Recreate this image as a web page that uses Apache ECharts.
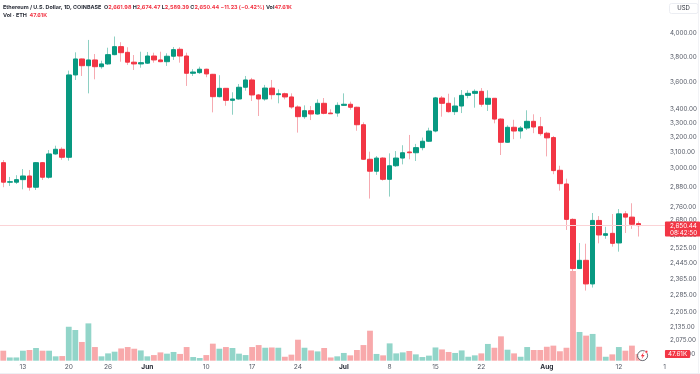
<!DOCTYPE html>
<html><head><meta charset="utf-8">
<style>html,body{margin:0;padding:0;background:#fff}#c{width:700px;height:374px}</style>
<script src="https://cdn.jsdelivr.net/npm/echarts@6/dist/echarts.min.js"></script>
</head><body><div id="c"></div>
<script>
const opens=[3032,2908,2908,2924,2947,2877,3032,2939,3089,3120,3067,3657,3784,3730,3776,3722,3744,3819,3885,3838,3758,3744,3750,3808,3776,3762,3806,3863,3808,3670,3675,3702,3662,3491,3554,3464,3474,3562,3618,3504,3474,3556,3506,3513,3489,3415,3345,3388,3364,3442,3371,3371,3427,3435,3413,3288,3054,2977,3062,2926,3012,3062,3102,3097,3131,3174,3244,3481,3442,3381,3422,3501,3516,3531,3435,3479,3328,3167,3270,3244,3265,3312,3274,3229,3199,2983,2897,2686,2418,2461,2340,2680,2596,2607,2554,2718,2699,2661.98];
const closes=[2908,2911,2924,2947,2877,3032,2939,3089,3120,3067,3657,3784,3730,3776,3722,3744,3819,3885,3835,3758,3744,3754,3808,3776,3762,3806,3860,3808,3670,3680,3702,3665,3491,3554,3464,3474,3562,3618,3504,3474,3556,3506,3513,3489,3415,3345,3388,3364,3442,3369,3366,3427,3435,3413,3288,3054,2977,3062,2926,3012,3062,3097,3097,3131,3174,3244,3482,3442,3381,3422,3501,3516,3531,3435,3479,3328,3167,3270,3244,3265,3312,3272,3226,3197,2981,2899,2686,2418,2461,2340,2680,2598,2605,2552,2718,2699,2658,2650.44];
const lows=[2877,2885,2897,2864,2856,2860,2922,2930,3084,3051,3045,3618,3649,3516,3623,3706,3736,3814,3762,3736,3696,3714,3744,3754,3758,3728,3776,3754,3572,3649,3665,3639,3376,3486,3424,3359,3468,3536,3459,3350,3461,3471,3442,3471,3402,3233,3330,3321,3359,3362,3364,3345,3424,3395,3246,3051,2808,2954,2918,2820,3004,3021,3054,3043,3113,3169,3235,3345,3374,3357,3371,3479,3410,3417,3386,3298,3082,3165,3188,3192,3251,3229,3212,3073,2958,2856,2626,2116,2416,2307,2322,2552,2577,2534,2507,2609,2632,2589.39];
const highs=[3049,2941,2952,2991,2985,3036,3036,3115,3144,3133,3691,3838,3787,3941,3824,3770,3876,3970,3922,3880,3816,3843,3841,3835,3843,3830,3882,3880,3835,3702,3722,3706,3665,3655,3556,3524,3587,3649,3634,3511,3580,3618,3546,3521,3516,3427,3427,3422,3471,3481,3398,3449,3516,3454,3417,3305,3104,3075,3067,3093,3108,3147,3217,3156,3199,3267,3489,3496,3513,3486,3541,3539,3546,3556,3539,3481,3333,3284,3323,3279,3391,3362,3343,3239,3210,3012,2930,2692,2554,2550,2723,2705,2644,2717,2746,2734,2780,2674.47];
const volumes=[71,23,23,71,76,90,71,71,31,33,241,218,133,265,97,31,52,64,87,97,85,73,31,40,59,50,62,48,97,26,19,40,121,85,97,90,50,40,97,111,92,94,92,28,43,149,92,73,66,90,23,31,55,38,76,111,213,48,38,123,52,59,69,45,26,36,94,80,62,55,73,28,38,52,119,92,173,78,52,28,97,76,76,99,107,67,92,637,204,178,190,99,28,45,97,71,107,47.61];
const priceTicks=[4000,3800,3600,3400,3300,3200,3100,3000,2880,2760,2680,2600,2525,2445,2365,2285,2205,2135,2075,2015];
const dateTickIndex=[3,10,16,22,31,38,45,52,59,66,73,83,94,101];
const dateTickText=['13','20','26','Jun','10','17','24','Jul','8','15','22','Aug','12','1'];
const boldTicks=['Jun','Jul','Aug'];
const categories=[];
for(let i=0;i<102;i++){const d=new Date(Date.UTC(2024,4,10+i));categories.push(d.toISOString().slice(0,10));}
const UP='#089981',DOWN='#f23645',UPW='#8ed0c3',DOWNW='#f6aab1',UPV='#92d5c9',DOWNV='#f8a9ab';
const lastClose=closes[closes.length-1],lastVol=volumes[volumes.length-1];
const wicks=opens.map((o,i)=>[o,closes[i],lows[i],highs[i]]);
const bodies=opens.map((o,i)=>[o,closes[i],Math.min(o,closes[i]),Math.max(o,closes[i])]);
const FONT='Inter, "Noto Sans", sans-serif';
const TS=5.45;
const chart=echarts.init(document.getElementById('c'),null,{renderer:'canvas'});
chart.setOption({
 animation:false,backgroundColor:'#fff',
 title:{left:3,top:3,padding:0,itemGap:0,text:
  '{k|Ethereum / U.S. Dollar, 1D, COINBASE}  {k|O}{r|2,661.98} {k|H}{r|2,674.47} {k|L}{r|2,589.39} {k|C}{r|2,650.44} {r|−11.23 (−0.42%)} {k|Vol}{r|47.61K}\n{k|Vol · ETH}  {r|47.61K}',
  textStyle:{fontFamily:FONT,fontSize:TS,lineHeight:8.5,color:'#2a2e39',rich:{
   k:{fontFamily:FONT,fontSize:TS,lineHeight:8.5,color:'#2a2e39'},
   r:{fontFamily:FONT,fontSize:TS,lineHeight:8.5,color:'#f23645'}}}},
 grid:{left:0,top:0,width:670,height:360.7,containLabel:false},
 xAxis:{type:'category',data:categories,boundaryGap:true,
  axisLine:{show:false},axisTick:{show:false},splitLine:{show:false},
  axisLabel:{margin:3,fontFamily:FONT,fontSize:6.6,color:'#555a66',hideOverlap:false,
   interval:(i)=>dateTickIndex.includes(i),
   formatter:(v,i)=>{const t=dateTickText[dateTickIndex.indexOf(i)]||'';return boldTicks.includes(t)?'{b|'+t+'}':t;},
   rich:{b:{fontFamily:FONT,fontSize:6.6,fontWeight:'bold',color:'#2a2e39'}}}},
 yAxis:[
  {type:'log',position:'right',min:1986,max:4292,axisLine:{show:false},splitLine:{show:false},
   axisTick:{show:false},
   axisLabel:{customValues:priceTicks,margin:2,fontFamily:FONT,fontSize:6.3,color:'#555a66',align:'left',showMinLabel:true,showMaxLabel:true,
    formatter:(v)=>Number(Math.round(v)).toLocaleString('en-US',{minimumFractionDigits:2,maximumFractionDigits:2})}},
  {type:'value',show:false,min:0,max:2561,splitLine:{show:false}}
 ],
 series:[
  {type:'bar',name:'Vol',xAxisIndex:0,yAxisIndex:1,barWidth:5.8,z:1,silent:true,
   data:volumes.map((v,i)=>({value:v,itemStyle:{color:closes[i]>=opens[i]?UPV:DOWNV}})),
   markLine:{silent:true,symbol:'none',z:20,lineStyle:{color:'rgba(0,0,0,0)',width:1},
    data:[{yAxis:lastVol}],
    label:{show:true,position:'end',distance:0,offset:[-3,0],formatter:'47.61K',backgroundColor:DOWN,color:'#fff',
     fontFamily:FONT,fontSize:6.3,padding:[1,3,1,3],borderRadius:1}}},
  {type:'candlestick',name:'Wicks',barWidth:1,z:3,silent:true,data:wicks,
   itemStyle:{color:UPW,color0:DOWNW,borderColor:UPW,borderColor0:DOWNW,borderWidth:1}},
  {type:'candlestick',name:'ETHUSD',barWidth:5,z:4,silent:true,data:bodies,
   itemStyle:{color:UP,color0:DOWN,borderColor:UP,borderColor0:DOWN,borderWidth:1},
   markLine:{silent:true,symbol:'none',z:20,lineStyle:{color:'#fbd3d6',type:'solid',width:1},
    data:[{yAxis:lastClose}],
    label:{show:true,position:'end',distance:0,offset:[-3,3.5],formatter:'2,650.44\n08:42:50',backgroundColor:DOWN,color:'#fff',
     fontFamily:FONT,fontSize:6.3,lineHeight:7,padding:[0.5,3,0.5,5],borderRadius:1}}}
 ],
 graphic:[
  {type:'rect',z:30,silent:true,shape:{x:669.5,y:3.5,width:28.5,height:10,r:2},style:{fill:'#fff',stroke:'#eceef3',lineWidth:1}},
  {type:'text',z:31,silent:true,style:{x:683.5,y:8.5,text:'USD',fill:'#2a2e39',font:'6px '+FONT,textAlign:'center',textVerticalAlign:'middle'}},
  {type:'line',z:0,silent:true,shape:{x1:698.5,y1:0,x2:698.5,y2:374},style:{stroke:'#f2f3f6',lineWidth:1}},
  {type:'line',z:0,silent:true,shape:{x1:0,y1:373.5,x2:700,y2:373.5},style:{stroke:'#eef0f4',lineWidth:1}},
  {type:'circle',z:31,silent:true,shape:{cx:642.6,cy:355.6,r:5},style:{fill:'#fff',stroke:'#2a2e39',lineWidth:0.7}},
  {type:'polygon',z:32,silent:true,shape:{points:[[643.8,352],[640.8,356.2],[642.6,356.2],[641.6,359.2],[644.6,355],[642.8,355]]},style:{fill:'#f23645'}},
  {type:'circle',z:33,silent:true,shape:{cx:646.4,cy:351.8,r:1.4},style:{fill:'#f23645',stroke:'#fff',lineWidth:0.5}}
 ]
});
</script></body></html>
